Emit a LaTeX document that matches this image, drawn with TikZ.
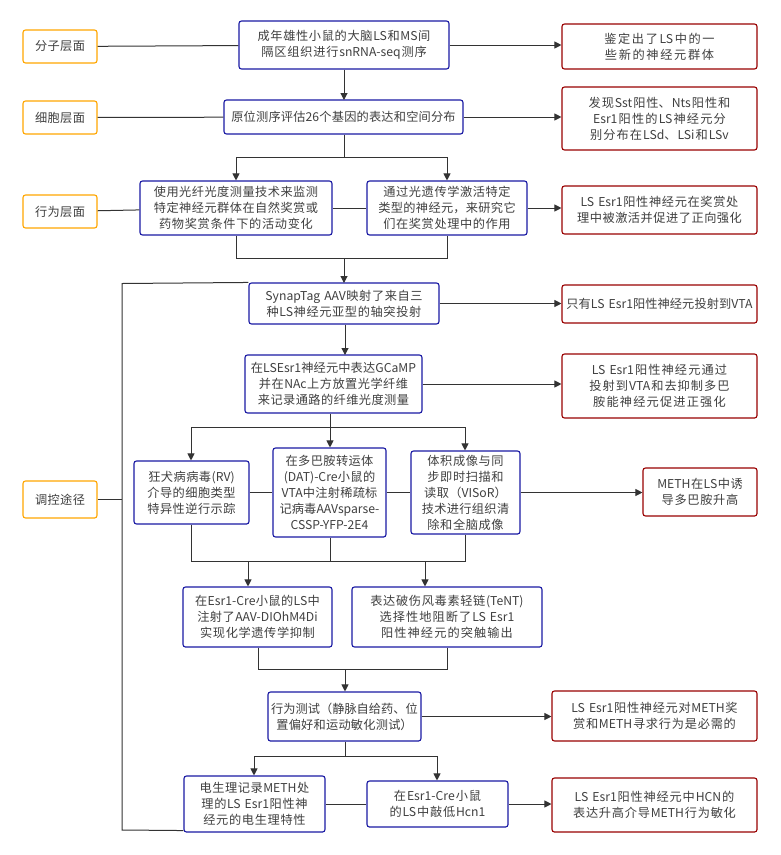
\documentclass[tikz,border=0pt]{standalone}
\usepackage{fontspec}
\setmainfont{Noto Sans CJK SC}
\XeTeXlinebreaklocale "zh"
\XeTeXlinebreakskip=0pt plus 1pt
\usetikzlibrary{arrows.meta}
\newcommand\bx[7]{\pgfmathsetmacro\bw{#4-#2}\pgfmathsetmacro\tw{#4-#2-5}\pgfmathsetmacro\bh{#5-#3}\node[#6,minimum width=\bw pt,minimum height=\bh pt,text width=\tw pt] (#1) at ({(#2+#4)/2},{(#3+#5)/2}) {#7};}
\begin{document}
\begin{tikzpicture}[x=1pt,y=-1pt,
 base/.style={draw,rounded corners=2.5pt,line width=1.1pt,align=center,inner sep=0pt,font=\fontsize{12.2}{16}\selectfont,text=black!75},
 lv/.style={base,draw=orange!70!yellow},
 ct/.style={base,draw=blue!60!black!90},
 rs/.style={base,draw=red!60!black},
 ln/.style={line width=1pt,draw=black!80},
 ar/.style={ln,-{Triangle[length=7pt,width=7pt]}}]
\useasboundingbox[fill=white] (0,0) rectangle (781,855);
\bx{l1}{23}{30}{97}{63}{lv}{分子层面}
\bx{l2}{23}{101}{97}{134}{lv}{细胞层面}
\bx{l3}{23}{195}{97}{228}{lv}{行为层面}
\bx{l4}{23}{481}{97}{518}{lv}{调控途径}
\bx{c1}{239}{21}{449}{69}{ct}{成年雄性小鼠的大脑LS和MS间隔区组织进行snRNA-seq测序}
\bx{c2}{224}{100}{463}{134}{ct}{原位测序评估26个基因的表达和空间分布}
\bx{c3a}{140}{181}{332}{235}{ct}{使用光纤光度测量技术来监测特定神经元群体在自然奖赏或药物奖赏条件下的活动变化}
\bx{c3b}{367}{181}{527}{235}{ct}{通过光遗传学激活特定类型的神经元，来研究它们在奖赏处理中的作用}
\bx{c4}{249}{283}{439}{324}{ct}{SynapTag AAV映射了来自三种LS神经元亚型的轴突投射}
\bx{c5}{245}{355}{422}{413}{ct}{在LSEsr1神经元中表达GCaMP并在NAc上方放置光学纤维来记录通路的纤维光度测量}
\bx{c6a}{134}{461}{249}{524}{ct}{狂犬病病毒(RV)介导的细胞类型特异性逆行示踪}
\bx{c6b}{273}{448}{386}{537}{ct}{在多巴胺转运体(DAT)-Cre小鼠的VTA中注射稀疏标记病毒AAVsparse-CSSP-YFP-2E4}
\bx{c6c}{411}{451}{520}{534}{ct}{体积成像与同步即时扫描和读取（VISoR）技术进行组织清除和全脑成像}
\bx{c7a}{183}{587}{332}{647}{ct}{在Esr1-Cre小鼠的LS中注射了AAV-DIOhM4Di实现化学遗传学抑制}
\bx{c7b}{352}{587}{542}{647}{ct}{表达破伤风毒素轻链(TeNT)选择性地阻断了LS Esr1阳性神经元的突触输出}
\bx{c8}{268}{692}{421}{741}{ct}{行为测试（静脉自给药、位置偏好和运动敏化测试）}
\bx{c9a}{184}{776}{325}{832}{ct}{电生理记录METH处理的LS Esr1阳性神经元的电生理特性}
\bx{c9b}{367}{781}{508}{827}{ct}{在Esr1-Cre小鼠的LS中敲低Hcn1}
\bx{r1}{562}{24}{757}{69}{rs}{鉴定出了LS中的一些新的神经元群体}
\bx{r2}{562}{87}{757}{150}{rs}{发现Sst阳性、Nts阳性和Esr1阳性的LS神经元分别分布在LSd、LSi和LSv}
\bx{r3}{562}{186}{757}{234}{rs}{LS Esr1阳性神经元在奖赏处理中被激活并促进了正向强化}
\bx{r4}{562}{285}{757}{323}{rs}{只有LS Esr1阳性神经元投射到VTA}
\bx{r5}{562}{354}{757}{418}{rs}{LS Esr1阳性神经元通过投射到VTA和去抑制多巴胺能神经元促进正强化}
\bx{r6}{643}{468}{757}{516}{rs}{METH在LS中诱导多巴胺升高}
\bx{r7}{552}{691}{757}{741}{rs}{LS Esr1阳性神经元对METH奖赏和METH寻求行为是必需的}
\bx{r8}{552}{778}{757}{832}{rs}{LS Esr1阳性神经元中HCN的表达升高介导METH行为敏化}
% left lines
\draw[ln] (l1) -- (c1); \draw[ln] (l2) -- (c2); \draw[ln] (l3) -- (c3a);
\draw[ln] (c3a) -- (c3b);
\draw[ln] (l4.east) -- (122,499.5);
% right arrows
\draw[ar] (c1) -- (c1-|r1.west); \draw[ar] (c2) -- (c2-|r2.west);
\draw[ar] (c3b) -- (c3b-|r3.west); \draw[ar] (c4) -- (c4-|r4.west);
\draw[ar] (c5) -- (c5-|r5.west); \draw[ar] (c6c) -- (c6c-|r6.west);
\draw[ar] (c8) -- (c8-|r7.west); \draw[ar] (c9b) -- (c9b-|r8.west);
% vertical flow
\draw[ar] (c1.south-|344,0) -- (344,100);
\draw[ln] (c2.south-|344,0) -- (344,157);
\coordinate (s1) at (344,157);
\draw[ar] (s1) -- (236,157) -- (c3a.north-|236,0);
\draw[ar] (s1) -- (447,157) -- (c3b.north-|447,0);
\draw[ln] (c3a.south-|236,0) -- (236,258) -- (447,258) -- (c3b.south-|447,0);
\draw[ar] (344,258) -- (344,283);
\draw[ln] (c6a) -- (c6b); \draw[ln] (c6b) -- (c6c);
\draw[ar] (c4.south-|345,0) -- (345,355);
\draw[ln] (c5.south-|330,0) -- (330,427);
\draw[ar] (330,427) -- (c6b.north-|330,0);
\draw[ar] (330,427) -- (191,427) -- (c6a.north-|191,0);
\draw[ar] (330,427) -- (465,427) -- (c6c.north-|465,0);
\draw[ln] (c6a.south-|191,0) -- (191,561) -- (465,561) -- (c6c.south-|465,0);
\draw[ln] (c6b.south-|330,0) -- (330,561);
\draw[ar] (248,561) -- (c7a.north-|248,0);
\draw[ar] (425,561) -- (c7b.north-|425,0);
\draw[ln] (c7a.south-|258,0) -- (258,669) -- (447,669) -- (c7b.south-|447,0);
\draw[ar] (345,669) -- (c8.north-|345,0);
\draw[ln] (c8.south-|345,0) -- (345,756);
\draw[ar] (345,756) -- (254,756) -- (c9a.north-|254,0);
\draw[ar] (345,756) -- (437,756) -- (c9b.north-|437,0);
\draw[ln] (c9a) -- (c9b);
\draw[ln] (c9a.south west)++(0,-2) -- (122,830) -- (122,283.5) -- (c4.north west);
\end{tikzpicture}
\end{document}
